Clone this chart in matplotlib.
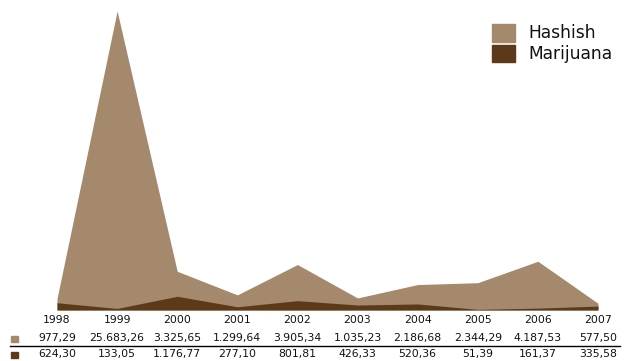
import matplotlib
matplotlib.use("Agg")
import matplotlib.pyplot as plt
from matplotlib.patches import Rectangle
import matplotlib.transforms as mtransforms

years = [1998, 1999, 2000, 2001, 2002, 2003, 2004, 2005, 2006, 2007]
hashish = [977.29, 25683.26, 3325.65, 1299.64, 3905.34, 1035.23, 2186.68, 2344.29, 4187.53, 577.50]
marijuana = [624.30, 133.05, 1176.77, 277.10, 801.81, 426.33, 520.36, 51.39, 161.37, 335.58]
hashish_labels = ["977,29", "25.683,26", "3.325,65", "1.299,64", "3.905,34", "1.035,23",
                  "2.186,68", "2.344,29", "4.187,53", "577,50"]
marijuana_labels = ["624,30", "133,05", "1.176,77", "277,10", "801,81", "426,33",
                    "520,36", "51,39", "161,37", "335,58"]
series_names = ["Hashish", "Marijuana"]

c_hash = "#A5896C"
c_mar = "#5C3918"

W, H = 625, 361
fig = plt.figure(figsize=(W / 100, H / 100), dpi=100)
ax = fig.add_axes([57 / W, (H - 310) / H, (598 - 57) / W, (310 - 11) / H])
ax.fill_between(years, 0, hashish, color=c_hash, linewidth=0, label=series_names[0])
ax.fill_between(years, 0, marijuana, color=c_mar, linewidth=0, label=series_names[1])
ax.set_xlim(years[0], years[-1])
ax.set_ylim(0, max(hashish))
ax.axis("off")

def fy(py):
    return (H - py) / H

trans = mtransforms.blended_transform_factory(ax.transData, fig.transFigure)
fs = 7.8
for i, y in enumerate(years):
    ax.text(y, fy(320), str(y), transform=trans, ha="center", va="center", fontsize=fs, color="#111111")
    ax.text(y, fy(338), hashish_labels[i], transform=trans, ha="center", va="center", fontsize=fs, color="#111111")
    ax.text(y, fy(354), marijuana_labels[i], transform=trans, ha="center", va="center", fontsize=fs, color="#111111")

# marker squares
fig.patches.append(Rectangle((11 / W, fy(342)), 7 / W, 6 / H, transform=fig.transFigure, color=c_hash))
fig.patches.append(Rectangle((11 / W, fy(358)), 7 / W, 6 / H, transform=fig.transFigure, color=c_mar))
# separator line
fig.add_artist(plt.Line2D([10 / W, 620 / W], [fy(346), fy(346)], transform=fig.transFigure, color="black", linewidth=1))

# legend
fig.patches.append(Rectangle((492 / W, fy(42)), 23 / W, 18 / H, transform=fig.transFigure, color=c_hash))
fig.patches.append(Rectangle((492 / W, fy(62)), 23 / W, 17 / H, transform=fig.transFigure, color=c_mar))
fig.text(528 / W, fy(33), series_names[0], ha="left", va="center", fontsize=12.3, color="#111111")
fig.text(528 / W, fy(54), series_names[1], ha="left", va="center", fontsize=12.3, color="#111111")

fig.savefig("out.png", dpi=100)
